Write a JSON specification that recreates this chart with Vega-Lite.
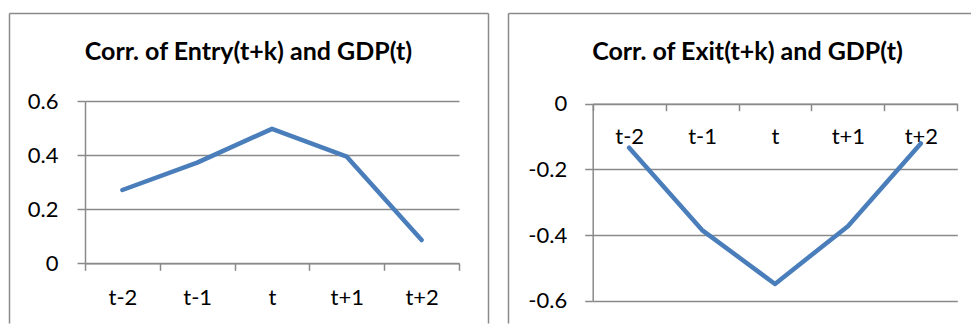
{
  "$schema": "https://vega.github.io/schema/vega-lite/v6.json",
  "autosize": {"type": "none"},
  "padding": {"left": 9, "top": 13, "right": 962, "bottom": 305},
  "background": "white",
  "datasets": {
    "entry": [
      {"lag": "t-2", "corr": 0.271},
      {"lag": "t-1", "corr": 0.372},
      {"lag": "t", "corr": 0.497},
      {"lag": "t+1", "corr": 0.394},
      {"lag": "t+2", "corr": 0.086}
    ],
    "exit": [
      {"lag": "t-2", "corr": -0.134},
      {"lag": "t-1", "corr": -0.385},
      {"lag": "t", "corr": -0.549},
      {"lag": "t+1", "corr": -0.373},
      {"lag": "t+2", "corr": -0.121}
    ],
    "frame": [{"edge": 0}]
  },
  "config": {
    "font": "Lato",
    "view": {"stroke": null},
    "axis": {
      "domainColor": "#8a8a8a",
      "domainWidth": 1.5,
      "tickColor": "#8a8a8a",
      "tickWidth": 1.5,
      "gridColor": "#8a8a8a",
      "gridWidth": 1.5,
      "gridOpacity": 1,
      "labelFont": "Lato",
      "labelFontSize": 22,
      "labelColor": "#000000",
      "title": null
    },
    "title": {
      "font": "Lato",
      "fontWeight": "bold",
      "fontSize": 25,
      "color": "#000000",
      "anchor": "middle",
      "frame": "group",
      "baseline": "alphabetic"
    }
  },
  "hconcat": [
    {
      "width": 479,
      "height": 310,
      "title": {"text": "Corr. of Entry(t+k) and GDP(t)", "offset": -52},
      "resolve": {"scale": {"x": "independent", "y": "independent"}, "axis": {"x": "independent", "y": "independent"}},
      "layer": [
        {
          "data": {"name": "frame"},
          "mark": {"type": "point", "opacity": 0},
          "encoding": {
            "x": {"field": "edge", "type": "quantitative", "scale": {"domain": [0, 1], "range": [0, 479], "nice": false, "zero": false}, "axis": {"orient": "top", "offset": 0, "ticks": false, "labels": false, "grid": false}},
            "y": {"field": "edge", "type": "quantitative", "scale": {"domain": [0, 1], "range": [310, 0], "nice": false, "zero": false}, "axis": {"orient": "left", "offset": 0, "ticks": false, "labels": false, "grid": false}}
          }
        },
        {
          "data": {"name": "frame"},
          "mark": {"type": "point", "opacity": 0},
          "encoding": {
            "y": {"field": "edge", "type": "quantitative", "scale": {"domain": [0, 1], "range": [310, 0], "nice": false, "zero": false}, "axis": {"orient": "right", "offset": 0, "ticks": false, "labels": false, "grid": false}}
          }
        },
        {
          "data": {"name": "entry"},
          "mark": {"type": "line", "color": "#4a7ebb", "strokeWidth": 4.5, "strokeCap": "round", "strokeJoin": "round"},
          "encoding": {
            "x": {
              "field": "lag",
              "type": "ordinal",
              "sort": ["t-2", "t-1", "t", "t+1", "t+2"],
              "scale": {"type": "band", "range": [76, 450], "paddingInner": 0, "paddingOuter": 0},
              "axis": {"orient": "bottom", "offset": -59.7, "tickBand": "extent", "tickSize": 7, "labelPadding": 17, "labelAngle": 0, "grid": false}
            },
            "y": {
              "field": "corr",
              "type": "quantitative",
              "scale": {"domain": [0, 0.6], "range": [250.3, 88], "nice": false},
              "axis": {"orient": "left", "offset": -76, "values": [0, 0.2, 0.4, 0.6], "labelExpr": "toString(datum.value)", "tickSize": 8, "labelPadding": 19, "grid": true}
            }
          }
        }
      ]
    },
    {
      "width": 466,
      "height": 310,
      "title": {"text": "Corr. of Exit(t+k) and GDP(t)", "offset": -52, "dx": 6.5},
      "resolve": {"scale": {"x": "independent", "y": "independent"}, "axis": {"x": "independent", "y": "independent"}},
      "layer": [
        {
          "data": {"name": "frame"},
          "mark": {"type": "point", "opacity": 0},
          "encoding": {
            "x": {"field": "edge", "type": "quantitative", "scale": {"domain": [0, 1], "range": [0, 479], "nice": false, "zero": false}, "axis": {"orient": "top", "offset": 0, "ticks": false, "labels": false, "grid": false}},
            "y": {"field": "edge", "type": "quantitative", "scale": {"domain": [0, 1], "range": [310, 0], "nice": false, "zero": false}, "axis": {"orient": "left", "offset": 0, "ticks": false, "labels": false, "grid": false}}
          }
        },
        {
          "data": {"name": "exit"},
          "mark": {"type": "line", "color": "#4a7ebb", "strokeWidth": 4.5, "strokeCap": "round", "strokeJoin": "round"},
          "encoding": {
            "x": {
              "field": "lag",
              "type": "ordinal",
              "sort": ["t-2", "t-1", "t", "t+1", "t+2"],
              "scale": {"type": "band", "range": [84.7, 449.3], "paddingInner": 0, "paddingOuter": 0},
              "axis": {"orient": "bottom", "offset": -219.3, "tickBand": "extent", "tickSize": 7, "labelPadding": 16, "labelAngle": 0, "grid": false}
            },
            "y": {
              "field": "corr",
              "type": "quantitative",
              "scale": {"domain": [-0.6, 0], "range": [287.7, 90.7], "nice": false},
              "axis": {"orient": "left", "offset": -84.7, "values": [-0.6, -0.4, -0.2, 0], "labelExpr": "toString(datum.value)", "tickSize": 8, "labelPadding": 18, "grid": true}
            }
          }
        }
      ]
    }
  ],
  "spacing": 17
}
